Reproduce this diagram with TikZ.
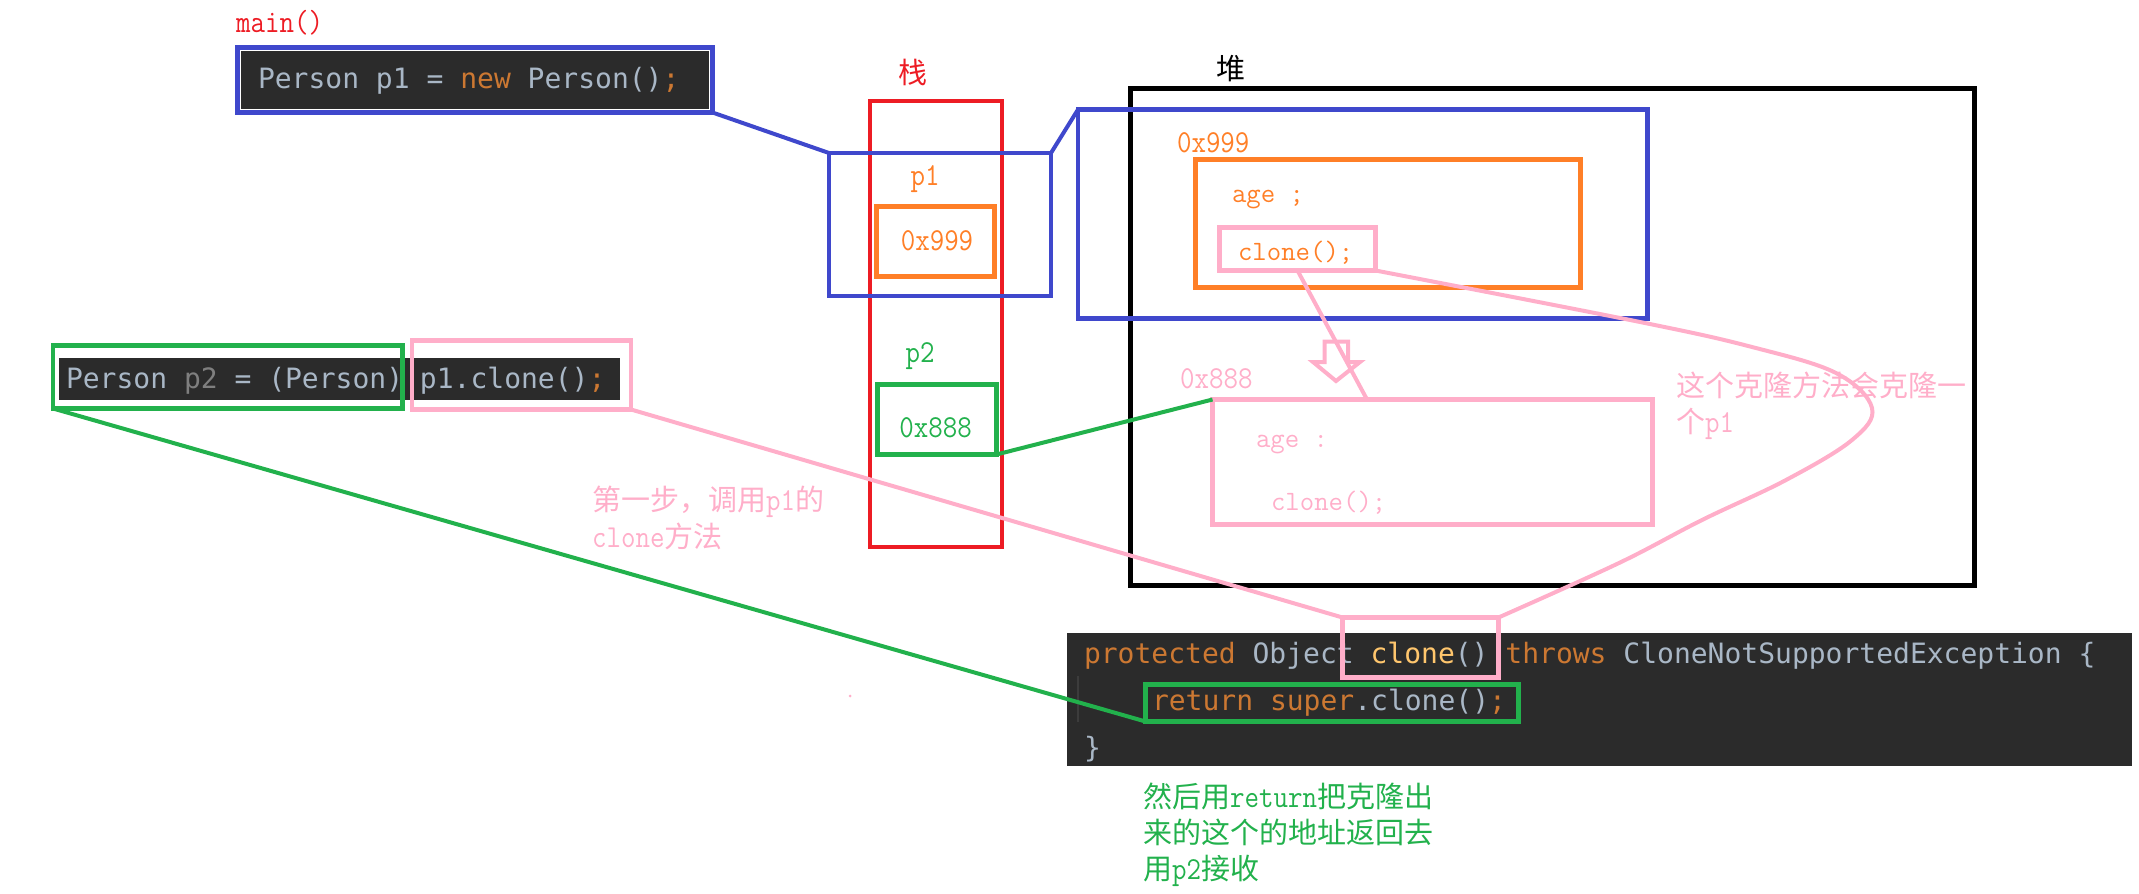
\documentclass[tikz,border=0pt]{standalone}
\usepackage{fontspec}
\newfontfamily\cjk{Noto Sans CJK SC}
\newfontfamily\codefont{DejaVu Sans Mono}
\newfontfamily\annlatin{Latin Modern Mono}[FakeStretch=0.88]
\definecolor{pblue}{HTML}{3F48CC}
\definecolor{pred}{HTML}{ED1C24}
\definecolor{porange}{HTML}{FF7F27}
\definecolor{pgreen}{HTML}{22B14C}
\definecolor{ppink}{HTML}{FFAEC9}
\definecolor{codebg}{HTML}{2B2B2B}
\definecolor{cfg}{HTML}{A9B7C6}
\definecolor{ckw}{HTML}{CC7832}
\definecolor{cfn}{HTML}{FFC66D}
\definecolor{cgr}{HTML}{7F7F7F}
\definecolor{cguide}{HTML}{3C3C3C}
\newcommand\cKw[1]{\textcolor{ckw}{#1}}
\newcommand\cFg[1]{\textcolor{cfg}{#1}}
\newcommand\cFn[1]{\textcolor{cfn}{#1}}
\newcommand\cGr[1]{\textcolor{cgr}{#1}}
\newcommand\zh[1]{{\fontsize{29}{36}\selectfont\cjk #1}}
\begin{document}
\begin{tikzpicture}[x=1pt,y=-1pt,
  rbox/.style={draw=#1, line width=4.5pt, inner sep=0pt, outer sep=0pt},
  bgbox/.style={fill=codebg, draw=none, inner sep=0pt, outer sep=0pt},
  lbl/.style={inner sep=0pt, outer sep=0pt},
  ann/.style={lbl, font=\fontsize{32}{36}\selectfont\annlatin},
  inner/.style={lbl, font=\fontsize{28}{34}\selectfont\ttfamily},
  codetxt/.style={lbl, font=\fontsize{28}{34}\selectfont\codefont},
  bigcjk/.style={lbl, font=\fontsize{29}{32}\selectfont\cjk},
  conn/.style={draw=#1, line width=4pt}
]
\useasboundingbox (0,0) rectangle (2139,894);

% ---------- main() code line ----------
\node[ann, text=pred, anchor=base west] (mainlbl) at (236,32) {main()};
\node[bgbox, minimum width=468pt, minimum height=58pt] (c1bg) at (475,80) {};
\node[rbox=pblue, line width=5pt, minimum width=475pt, minimum height=65pt] (c1) at (475,80) {};
\node[codetxt, anchor=base west] (c1t) at (258,88) {\cFg{Person p1 =} \cKw{new} \cFg{Person()}\cKw{;}};

% ---------- p2 code line ----------
\node[bgbox, minimum width=561pt, minimum height=42pt] (c2bg) at (339.5,379) {};
\node[codetxt, anchor=base west] (c2t) at (66,388) {\cFg{Person} \cGr{p2} \cFg{= (Person) p1.clone()}\cKw{;}};
\node[rbox=pgreen, minimum width=349.5pt, minimum height=63pt] (gl) at (227.75,377) {};
\node[rbox=ppink, minimum width=219pt, minimum height=69pt] (pl) at (521.5,375) {};

% ---------- stack ----------
\node[bigcjk, text=pred] (stklbl) at (913,72) {栈};
\node[rbox=pred, minimum width=132pt, minimum height=446pt] (stack) at (936,324) {};
\node[rbox=pblue, minimum width=222pt, minimum height=143pt] (bp1) at (940,224.5) {};
\node[ann, text=porange, anchor=base] (p1l) at (925,185) {p1};
\node[rbox=porange, minimum width=118pt, minimum height=70pt] (s999) at (935.5,241.5) {};
\node[ann, text=porange, anchor=base] (s999t) at (937,250) {0x999};
\node[ann, text=pgreen, anchor=base] (p2l) at (920,362) {p2};
\node[rbox=pgreen, minimum width=119pt, minimum height=70pt] (s888) at (937,419.5) {};
\node[ann, text=pgreen, anchor=base] (s888t) at (935.5,437) {0x888};

% ---------- heap ----------
\node[bigcjk, text=black] (hplbl) at (1231,69) {堆};
\node[rbox=black, line width=5pt, minimum width=844.5pt, minimum height=496.5pt] (heap) at (1552.25,336.75) {};
\node[rbox=pblue, minimum width=569.5pt, minimum height=209pt] (bh) at (1362.75,214) {};
\node[ann, text=porange, anchor=base west] (h999t) at (1177,152) {0x999};
\node[rbox=porange, minimum width=385pt, minimum height=128pt] (obj1) at (1388,223.5) {};
\node[inner, text=porange, anchor=base west] (age1) at (1232,202) {age ;};
\node[rbox=ppink, minimum width=156pt, minimum height=43pt] (hclone) at (1297.5,249) {};
\node[inner, text=porange, anchor=base west] (cl1) at (1238,260) {clone();};

\node[ann, text=ppink, anchor=base west] (h888t) at (1180,388) {0x888};
\node[rbox=ppink, minimum width=440pt, minimum height=125pt] (obj2) at (1432.5,462) {};
\node[inner, text=ppink, anchor=base west] (age2) at (1256,447) {age :};
\node[inner, text=ppink, anchor=base west] (cl2) at (1271,510) {clone();};
\coordinate (obj2top) at (1367,399.5);

% hollow arrow
\draw[ppink, line width=4pt, line join=miter]
  (1324.5,341.5) -- (1348,341.5) -- (1348,362) -- (1360,362) -- (1336,381)
  -- (1313,362) -- (1324.5,362) -- cycle;

% ---------- clone() method code ----------
\node[bgbox, minimum width=1065pt, minimum height=133pt] (c3bg) at (1599.5,699.5) {};
\draw[cguide, line width=1.2pt] (1078,676) -- (1078,722);
\node[codetxt, anchor=base west] (c3a) at (1084,663) {\cKw{protected} \cFg{Object} \cFn{clone}\cFg{()} \cKw{throws} \cFg{CloneNotSupportedException \{}};
\node[codetxt, anchor=base west] (c3b) at (1152,710) {\cKw{return super}\cFg{.clone()}\cKw{;}};
\node[codetxt, anchor=base west] (c3c) at (1084,757) {\cFg{\}}};
\node[rbox=ppink, minimum width=156pt, minimum height=60pt] (cc) at (1420.5,647.5) {};
\node[rbox=pgreen, minimum width=373pt, minimum height=37pt] (ret) at (1332,703) {};

% ---------- annotations ----------
\node[ann, text=ppink, anchor=base west] (a1) at (592,510) {\zh{第一步，调用}p1\zh{的}};
\node[ann, text=ppink, anchor=base west] (a2) at (592,547) {clone\zh{方法}};
\node[ann, text=ppink, anchor=base west] (r1) at (1676,396) {\zh{这个克隆方法会克隆一}};
\node[ann, text=ppink, anchor=base west] (r2) at (1676,432) {\zh{个}p1};
\node[ann, text=pgreen, anchor=base west] (g1) at (1143,807) {\zh{然后用}return\zh{把克隆出}};
\node[ann, text=pgreen, anchor=base west] (g2) at (1143,843) {\zh{来的这个的地址返回去}};
\node[ann, text=pgreen, anchor=base west] (g3) at (1143,879) {\zh{用}p2\zh{接收}};

% ---------- connectors ----------
\draw[conn=pblue] (c1.south east) -- (bp1.north west);
\draw[conn=pblue] (bp1.north east) -- (bh.north west);
\draw[conn=pgreen] (s888.south east) -- (obj2.north west);
\draw[conn=pgreen] (gl.south west) -- (ret.south west);
\draw[conn=ppink] (pl.south east) -- (cc.north west);
\draw[conn=ppink] (hclone.south) -- (obj2top);
\draw[conn=ppink] plot[smooth, tension=0.6] coordinates {(hclone.south east) (1640,322) (1752,347) (1836,373) (1872,408) (1852,440) (1786,480) (1702,520) (1619,563) (cc.north east)};

% stray dot
\fill[ppink] (850,696) circle (1.5);
\end{tikzpicture}
\end{document}
